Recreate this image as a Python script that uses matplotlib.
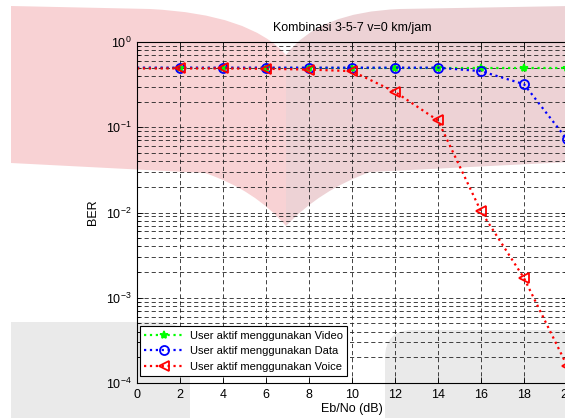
"""BER vs Eb/No chart, Kombinasi 3-5-7 v=0 km/jam."""

import matplotlib.pyplot as plt
from matplotlib.patches import PathPatch
from matplotlib.path import Path
from matplotlib.ticker import LogLocator, NullFormatter

# data
ebno = [0, 2, 4, 6, 8, 10, 12, 14, 16, 18, 20]
ber_video = [0.50, 0.50, 0.50, 0.50, 0.50, 0.50, 0.50, 0.50, 0.50, 0.50, 0.50]
ber_data = [0.50, 0.50, 0.50, 0.50, 0.50, 0.50, 0.50, 0.50, 0.455, 0.32, 0.072]
ber_voice = [0.49, 0.49, 0.49, 0.485, 0.475, 0.455, 0.26, 0.12, 0.0103, 0.0017, 0.00016]

labels = [
    "User aktif menggunakan Video",
    "User aktif menggunakan Data",
    "User aktif menggunakan Voice",
]

W, H = 565, 418

plt.rcParams["font.family"] = ["Liberation Sans", "DejaVu Sans"]
fig = plt.figure(figsize=(W / 100, H / 100), dpi=100)
fig.patch.set_facecolor("white")


def px(x, y):
    # pixel coords (top-left origin) -> figure fraction
    return (x / W, 1 - y / H)


def add_shape(points, codes, color):
    path = Path([px(*p) for p in points], codes)
    patch = PathPatch(path, transform=fig.transFigure, facecolor=color,
                      edgecolor="none", zorder=0)
    fig.add_artist(patch)


M, L, C = Path.MOVETO, Path.LINETO, Path.CURVE3

# watermark, left pink wing
add_shape(
    [(11, 6), (150, 9), (250, 14), (286, 55), (286, 226),
     (255, 190), (205, 173), (11, 163), (11, 6)],
    [M, L, C, C, L, C, C, L, Path.CLOSEPOLY],
    "#F8D2D4",
)
# watermark, right pink wing
add_shape(
    [(286, 55), (318, 12), (400, 9), (570, 6), (570, 162),
     (370, 172), (320, 190), (286, 226), (286, 55)],
    [M, C, C, L, L, L, C, C, Path.CLOSEPOLY],
    "#EDD2D5",
)
# watermark, grey blocks at the bottom
add_shape(
    [(11, 420), (11, 322), (158, 322), (190, 322), (190, 354), (190, 420), (11, 420)],
    [M, L, L, C, C, L, Path.CLOSEPOLY],
    "#EAEAEA",
)
add_shape(
    [(385, 420), (385, 358), (385, 330), (413, 330), (570, 330), (570, 420), (385, 420)],
    [M, L, C, C, L, L, Path.CLOSEPOLY],
    "#EAEAEA",
)

ax = fig.add_axes([137 / W, 1 - 383 / H, 430 / W, 341 / H])
ax.set_facecolor("none")

ax.semilogy(ebno, ber_video, linestyle=":", color="#00FF00", lw=1.6,
            marker="*", ms=6, mew=1.2, markevery=slice(1, None), label=labels[0])
ax.semilogy(ebno, ber_data, linestyle=":", color="#0000FF", lw=1.6,
            marker="o", ms=6.5, mfc="none", mew=1.3, markevery=slice(1, None), label=labels[1])
ax.semilogy(ebno, ber_voice, linestyle=":", color="#FF0000", lw=1.6,
            marker="<", ms=7, mfc="none", mew=1.3, markevery=slice(1, None), label=labels[2])

ax.set_xlim(0, 20)
ax.set_ylim(1e-4, 1)
ax.set_xticks(range(0, 21, 2))
ax.yaxis.set_major_locator(LogLocator(base=10, numticks=10))
ax.yaxis.set_minor_locator(LogLocator(base=10, subs=range(2, 10), numticks=10))
ax.yaxis.set_minor_formatter(NullFormatter())

grid_style = dict(color="#222222", linestyle=(0, (5, 3.5)), linewidth=0.6)
ax.grid(True, which="major", axis="both", **grid_style)
ax.grid(True, which="minor", axis="y", **grid_style)
ax.set_axisbelow(True)

ax.tick_params(which="both", direction="in", top=True, right=True, labelsize=9,
               colors="black", pad=4)
ax.tick_params(which="major", length=4, width=0.6)
ax.tick_params(which="minor", length=2.5, width=0.6)
for s in ax.spines.values():
    s.set_linewidth(0.8)

ax.set_title("Kombinasi 3-5-7 v=0 km/jam", fontsize=9, pad=8)
ax.set_xlabel("Eb/No (dB)", fontsize=9, labelpad=2)
ax.set_ylabel("BER", fontsize=9, labelpad=5)

leg = ax.legend(loc="lower left", bbox_to_anchor=(0.007, 0.02), borderaxespad=0,
                fontsize=8, handlelength=3.6, fancybox=False, framealpha=1,
                edgecolor="black", labelspacing=0.5, borderpad=0.4,
                handletextpad=0.5)
leg.get_frame().set_linewidth(0.8)

fig.savefig("out.png", dpi=100, facecolor="white")
